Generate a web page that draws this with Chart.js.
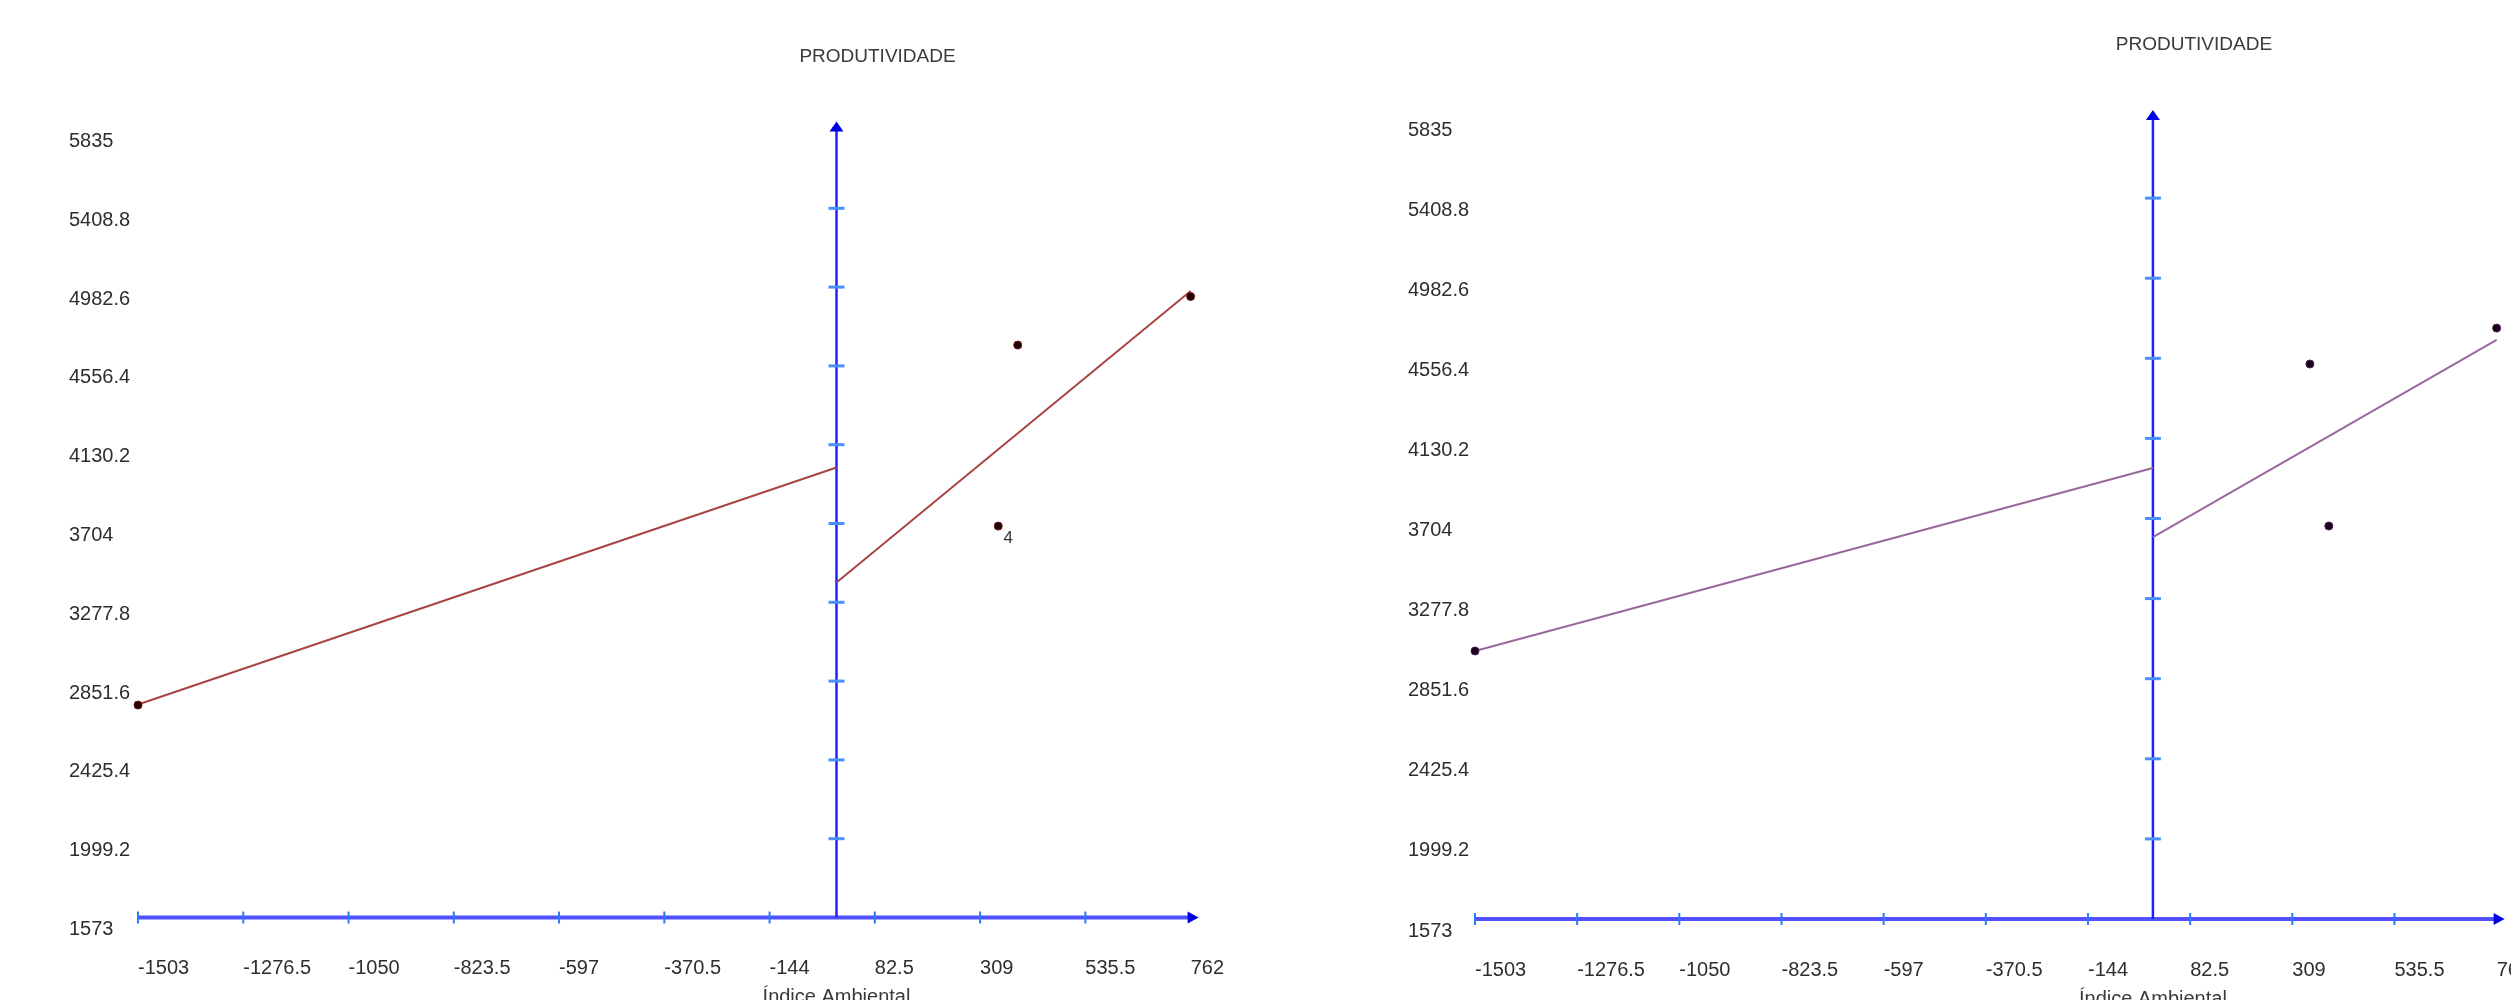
<!DOCTYPE html>
<html>
<head>
<meta charset="utf-8">
<title>Produtividade x Índice Ambiental</title>
<script src="https://cdn.jsdelivr.net/npm/chart.js@4/dist/chart.umd.min.js"></script>
<style>
  html, body { margin: 0; padding: 0; background: #fff; overflow: hidden; width: 2511px; height: 1000px; }
  canvas { position: absolute; top: 0; }
  #chartLeft { left: 0px; }
  #chartRight { left: 1340px; }
</style>
</head>
<body>
<canvas id="chartLeft" width="1255" height="1000"></canvas>
<canvas id="chartRight" width="1221" height="1000"></canvas>
<script>
// environment index (x) and productivity of each genotype (y)
const envIndex = [-1503, 348, 390, 762];
const prodLeft = [2722, 3690, 4669, 4932];
const prodRight = [2999, 4526, 3664, 4717];

// fitted bi-segmented lines: x from -1503 to 0 and from 0 to 762
const segNegX = [-1503, 0];
const segPosX = [0, 762];
const fitLeftNeg = [2725, 4007];
const fitLeftPos = [3385, 4962];
const fitRightNeg = [2999, 3973];
const fitRightPos = [3605, 4654];

// tick labels as printed on the chart
const xTicks = [-1503, -1276.5, -1050, -823.5, -597, -370.5, -144, 82.5, 309, 535.5, 762];
const yTicks = [1573, 1999.2, 2425.4, 2851.6, 3277.8, 3704, 4130.2, 4556.4, 4982.6, 5408.8, 5835];

const titleText = 'PRODUTIVIDADE';
const xTitleText = 'Índice Ambiental';

const fontFam = '"Liberation Sans", Arial, sans-serif';
Chart.defaults.font.family = fontFam;
Chart.defaults.font.size = 20;
Chart.defaults.color = '#2e2e2e';

function pts(xs, ys) {
    return xs.map((x, i) => ({ x: x, y: ys[i] }));
}

// draws the blue axes (x axis at the bottom, y axis at x = 0), titles and point labels
const axesPlugin = {
    id: 'blueAxes',
    beforeDatasetsDraw(chart) {
        const ctx = chart.ctx;
        const xs = chart.scales.x, ys = chart.scales.y;
        const x0 = xs.getPixelForValue(0);
        const yBase = ys.getPixelForValue(yTicks[0]);
        const yTop = ys.getPixelForValue(yTicks[yTicks.length - 1]);
        const xLeft = xs.getPixelForValue(xTicks[0]);
        const xRight = xs.getPixelForValue(xTicks[xTicks.length - 1]);

        ctx.save();
        // x axis
        ctx.strokeStyle = '#5050ff';
        ctx.lineWidth = 4;
        ctx.beginPath();
        ctx.moveTo(xLeft, yBase);
        ctx.lineTo(xRight, yBase);
        ctx.stroke();
        ctx.strokeStyle = '#2a7cff';
        ctx.lineWidth = 2;
        for (let i = 0; i < xTicks.length - 1; i++) {
            const px = xs.getPixelForValue(xTicks[i]);
            ctx.beginPath();
            ctx.moveTo(px, yBase - 6);
            ctx.lineTo(px, yBase + 6);
            ctx.stroke();
        }
        ctx.fillStyle = '#0000e6';
        ctx.beginPath();
        ctx.moveTo(xRight + 8, yBase);
        ctx.lineTo(xRight - 3, yBase - 6);
        ctx.lineTo(xRight - 3, yBase + 6);
        ctx.closePath();
        ctx.fill();

        // y axis at x = 0
        ctx.strokeStyle = '#2020ff';
        ctx.lineWidth = 2.5;
        ctx.beginPath();
        ctx.moveTo(x0, yBase);
        ctx.lineTo(x0, yTop - 2);
        ctx.stroke();
        ctx.strokeStyle = '#4a90ff';
        ctx.lineWidth = 3;
        for (let i = 1; i < yTicks.length - 1; i++) {
            const py = ys.getPixelForValue(yTicks[i]);
            ctx.beginPath();
            ctx.moveTo(x0 - 8, py);
            ctx.lineTo(x0 + 8, py);
            ctx.stroke();
        }
        ctx.fillStyle = '#0000e6';
        ctx.beginPath();
        ctx.moveTo(x0, yTop - 8);
        ctx.lineTo(x0 - 7, yTop + 2);
        ctx.lineTo(x0 + 7, yTop + 2);
        ctx.closePath();
        ctx.fill();

        // titles
        ctx.fillStyle = '#3a3a3a';
        ctx.font = '19px ' + fontFam;
        ctx.textAlign = 'center';
        ctx.textBaseline = 'middle';
        ctx.fillText(titleText, x0 + 41, chart.chartArea.top - 73);
        ctx.font = '20px ' + fontFam;
        ctx.textBaseline = 'top';
        ctx.fillText(xTitleText, x0, yBase + 70);
        ctx.restore();
    },
    afterDatasetsDraw(chart, args, opts) {
        if (opts.labelIndex == null) return;
        const meta = chart.getDatasetMeta(0);
        const p = meta.data[opts.labelIndex];
        const ctx = chart.ctx;
        ctx.save();
        ctx.fillStyle = '#334';
        ctx.font = '17px ' + fontFam;
        ctx.textAlign = 'center';
        ctx.textBaseline = 'middle';
        ctx.fillText(opts.labelText, p.x + 10, p.y + 12);
        ctx.restore();
    }
};

function makeChart(id, prod, fitNeg, fitPos, lineColor, dotColor, dotBorder, box, label) {
    const ctx = document.getElementById(id).getContext('2d');
    return new Chart(ctx, {
        type: 'scatter',
        data: {
            datasets: [{
                data: pts(envIndex, prod),
                pointRadius: 4,
                backgroundColor: dotColor,
                borderColor: dotBorder,
                borderWidth: 1,
                showLine: false,
                clip: false
            }, {
                data: pts(segNegX, fitNeg),
                showLine: true,
                borderColor: lineColor,
                borderWidth: 2,
                pointRadius: 0,
                clip: false
            }, {
                data: pts(segPosX, fitPos),
                showLine: true,
                borderColor: lineColor,
                borderWidth: 2,
                pointRadius: 0,
                clip: false
            }]
        },
        options: {
            responsive: false,
            animation: false,
            layout: { padding: { left: box.left, top: box.top, right: box.right, bottom: 0 } },
            plugins: {
                legend: { display: false },
                tooltip: { enabled: false },
                blueAxes: label || {}
            },
            scales: {
                x: {
                    type: 'linear',
                    min: xTicks[0],
                    max: xTicks[xTicks.length - 1],
                    grid: { display: false },
                    border: { display: false },
                    afterBuildTicks: s => { s.ticks = xTicks.map(v => ({ value: v })); },
                    afterFit: s => { s.height = box.xH; },
                    ticks: {
                        autoSkip: false,
                        maxRotation: 0,
                        align: 'start',
                        padding: 31,
                        callback: v => String(v)
                    }
                },
                y: {
                    type: 'linear',
                    min: yTicks[0],
                    max: yTicks[yTicks.length - 1],
                    grid: { display: false },
                    border: { display: false },
                    afterBuildTicks: s => { s.ticks = yTicks.map(v => ({ value: v })); },
                    afterFit: s => { s.width = box.yW; },
                    ticks: {
                        autoSkip: false,
                        crossAlign: 'far',
                        labelOffset: 12,
                        callback: v => String(v)
                    }
                }
            }
        },
        plugins: [axesPlugin]
    });
}

makeChart('chartLeft', prodLeft, fitLeftNeg, fitLeftPos, '#a84444', '#1e0000', '#6e1212',
    { left: 69, top: 129.5, right: 62, yW: 69, xH: 82.5 }, { labelIndex: 1, labelText: '4' });
makeChart('chartRight', prodRight, fitRightNeg, fitRightPos, '#98689c', '#1a0018', '#4a2050',
    { left: 68, top: 118, right: 62, yW: 67, xH: 81 }, null);
</script>
</body>
</html>
